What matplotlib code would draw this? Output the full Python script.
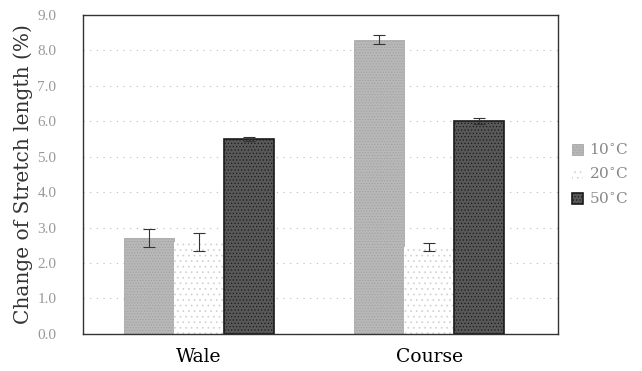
import numpy as np
import matplotlib
matplotlib.use('Agg')
from matplotlib import pyplot as plt

plt.rcParams['font.family'] = ['DejaVu Serif']
plt.rcParams['hatch.linewidth'] = 0.5

groups = ['Wale', 'Course']
temps = ['10$^{\\circ}$C', '20$^{\\circ}$C', '50$^{\\circ}$C']
vals_10 = [2.7, 8.3]
vals_20 = [2.6, 2.45]
vals_50 = [5.5, 6.0]
err_10 = [0.25, 0.12]
err_20 = [0.25, 0.12]
err_50 = [0.05, 0.08]

fig = plt.figure(figsize=(6.42, 3.71), dpi=100)
ax = fig.add_axes([0.129, 0.1, 0.74, 0.86])

x = np.arange(len(groups))
w = 0.218

ax.bar(x - w, vals_10, w, color='#b8b8b8', edgecolor='#a0a0a0', hatch='......',
       linewidth=0.5, label=temps[0], zorder=2)
ax.bar(x, vals_20, w, color='white', edgecolor='#d0d0d0', hatch='...',
       linewidth=0, label=temps[1], zorder=2)
ax.bar(x + w, vals_50, w, color='#585858', edgecolor='#1a1a1a', hatch='.....',
       linewidth=1.2, label=temps[2], zorder=2)

ekw = dict(fmt='none', ecolor='#333333', elinewidth=0.8, capsize=4, capthick=0.8, zorder=3)
ax.errorbar(x - w, vals_10, yerr=err_10, **ekw)
ax.errorbar(x, vals_20, yerr=err_20, **ekw)
ax.errorbar(x + w, vals_50, yerr=err_50, **ekw)

ax.set_xlim(-0.505, 1.56)
ax.set_ylim(0, 9)
ax.set_yticks(np.arange(0, 9.1, 1))
ax.set_yticklabels(['%.1f' % v for v in np.arange(0, 9.1, 1)], family='Liberation Serif')
ax.set_xticks(x)
ax.set_xticklabels(groups, fontsize=13.5)
ax.tick_params(axis='y', length=0, labelsize=11, labelcolor='#999999', pad=19)
ax.tick_params(axis='x', length=0, pad=10)
ax.yaxis.grid(True, linestyle=(0, (1, 5)), color='#bbbbbb', linewidth=0.8, zorder=0)
for s in ax.spines.values():
    s.set_color('#333333')
    s.set_linewidth(1.0)

ax.set_ylabel('Change of Stretch length (%)', fontsize=14.5, color='#333333', labelpad=3)

fig.legend(loc='center left', bbox_to_anchor=(0.87, 0.53), frameon=False,
           fontsize=11, handlelength=0.7, handleheight=0.7, handletextpad=0.4,
           labelspacing=0.6, labelcolor='#888888')

plt.savefig('out.png')
